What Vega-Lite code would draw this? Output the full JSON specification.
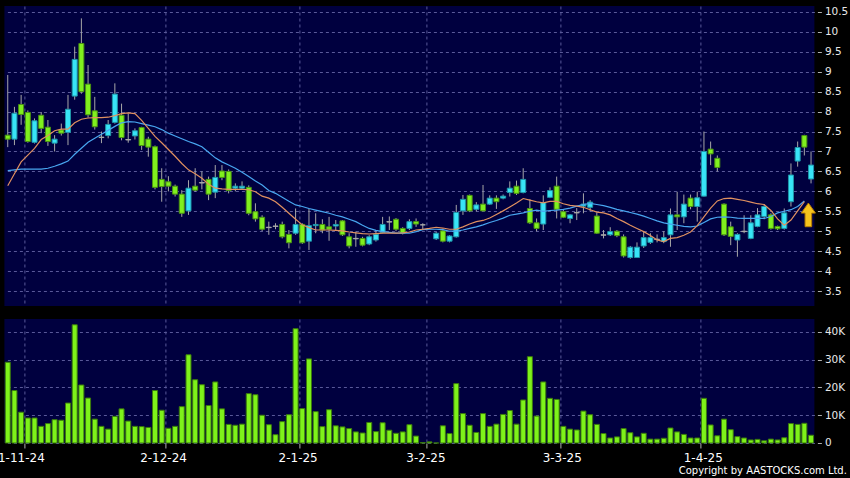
{
  "$schema": "https://vega.github.io/schema/vega-lite/v6.json",
  "background": "#000000",
  "padding": {"left": -2.6, "top": 6, "right": 3, "bottom": 3},
  "autosize": {"type": "pad"},
  "bounds": "flush",
  "spacing": 13,
  "config": {
    "view": {"fill": "#00003f", "stroke": null},
    "axis": {"domain": false, "labelFont": "DejaVu Sans", "labelColor": "#e8e8e8", "gridColor": "#5a5a9a", "gridDash": [3, 3], "gridWidth": 1, "tickColor": "#b0b0b0", "labelFlush": false, "labelOverlap": false}
  },
  "datasets": {
    "bars": [
      {"i":0,"o":7.41,"h":8.92,"l":7.11,"c":7.31,"v":29100,"mo":6.14,"mb":6.52},
      {"i":1,"o":7.31,"h":8.12,"l":7.16,"c":7.96,"v":18900,"mo":6.44,"mb":6.54},
      {"i":2,"o":8.18,"h":8.42,"l":7.67,"c":7.93,"v":11100,"mo":6.74,"mb":6.56},
      {"i":3,"o":7.98,"h":8.03,"l":7.22,"c":7.25,"v":9000,"mo":6.91,"mb":6.56},
      {"i":4,"o":7.23,"h":7.83,"l":7.2,"c":7.77,"v":9000,"mo":7.08,"mb":6.56},
      {"i":5,"o":7.91,"h":7.99,"l":7.46,"c":7.58,"v":6000,"mo":7.3,"mb":6.56},
      {"i":6,"o":7.61,"h":7.79,"l":7.14,"c":7.25,"v":7000,"mo":7.4,"mb":6.58},
      {"i":7,"o":7.21,"h":7.41,"l":7.0,"c":7.31,"v":8400,"mo":7.52,"mb":6.63},
      {"i":8,"o":7.54,"h":7.7,"l":7.4,"c":7.46,"v":8200,"mo":7.56,"mb":6.69},
      {"i":9,"o":7.48,"h":8.42,"l":7.16,"c":8.06,"v":14400,"mo":7.56,"mb":6.76},
      {"i":10,"o":8.39,"h":9.63,"l":8.3,"c":9.31,"v":42600,"mo":7.72,"mb":6.93},
      {"i":11,"o":9.71,"h":10.34,"l":8.45,"c":8.5,"v":20900,"mo":7.81,"mb":7.08},
      {"i":12,"o":8.69,"h":9.17,"l":7.85,"c":7.92,"v":16200,"mo":7.84,"mb":7.23},
      {"i":13,"o":8.02,"h":8.37,"l":7.55,"c":7.62,"v":8600,"mo":7.85,"mb":7.33},
      {"i":14,"o":7.36,"h":7.5,"l":7.21,"c":7.35,"v":6000,"mo":7.85,"mb":7.43},
      {"i":15,"o":7.4,"h":7.79,"l":7.33,"c":7.68,"v":5000,"mo":7.86,"mb":7.53},
      {"i":16,"o":7.73,"h":8.71,"l":7.7,"c":8.44,"v":9600,"mo":7.9,"mb":7.63},
      {"i":17,"o":7.91,"h":8.2,"l":7.28,"c":7.35,"v":12300,"mo":7.95,"mb":7.72},
      {"i":18,"o":7.29,"h":7.95,"l":7.22,"c":7.3,"v":7900,"mo":7.97,"mb":7.75},
      {"i":19,"o":7.39,"h":7.58,"l":7.3,"c":7.52,"v":6000,"mo":7.95,"mb":7.74},
      {"i":20,"o":7.6,"h":7.62,"l":7.04,"c":7.15,"v":5900,"mo":7.78,"mb":7.7},
      {"i":21,"o":7.31,"h":7.37,"l":6.87,"c":7.11,"v":5600,"mo":7.58,"mb":7.66},
      {"i":22,"o":7.12,"h":7.15,"l":6.05,"c":6.1,"v":18900,"mo":7.38,"mb":7.62},
      {"i":23,"o":6.3,"h":6.58,"l":5.74,"c":6.12,"v":11800,"mo":7.22,"mb":7.55},
      {"i":24,"o":6.24,"h":6.38,"l":6.0,"c":6.13,"v":5300,"mo":7.05,"mb":7.46},
      {"i":25,"o":6.13,"h":6.17,"l":5.87,"c":5.93,"v":6000,"mo":6.88,"mb":7.39},
      {"i":26,"o":5.93,"h":6.03,"l":5.36,"c":5.45,"v":13100,"mo":6.7,"mb":7.32},
      {"i":27,"o":5.51,"h":6.28,"l":5.41,"c":6.08,"v":31800,"mo":6.54,"mb":7.25},
      {"i":28,"o":6.13,"h":6.58,"l":5.99,"c":6.03,"v":22800,"mo":6.44,"mb":7.19},
      {"i":29,"o":6.22,"h":6.5,"l":6.05,"c":6.21,"v":21000,"mo":6.33,"mb":7.12},
      {"i":30,"o":6.3,"h":6.37,"l":5.78,"c":5.93,"v":13500,"mo":6.18,"mb":6.98},
      {"i":31,"o":5.98,"h":6.66,"l":5.83,"c":6.35,"v":22000,"mo":6.08,"mb":6.84},
      {"i":32,"o":6.51,"h":6.66,"l":6.28,"c":6.35,"v":12300,"mo":6.06,"mb":6.74},
      {"i":33,"o":6.5,"h":6.55,"l":5.95,"c":6.02,"v":6700,"mo":6.05,"mb":6.66},
      {"i":34,"o":6.08,"h":6.2,"l":6.0,"c":6.13,"v":6400,"mo":6.05,"mb":6.58},
      {"i":35,"o":6.08,"h":6.25,"l":6.05,"c":6.13,"v":6800,"mo":6.05,"mb":6.48},
      {"i":36,"o":6.1,"h":6.15,"l":5.4,"c":5.45,"v":17800,"mo":6.04,"mb":6.37},
      {"i":37,"o":5.49,"h":5.7,"l":5.24,"c":5.31,"v":17400,"mo":5.99,"mb":6.26},
      {"i":38,"o":5.35,"h":5.4,"l":5.0,"c":5.05,"v":10000,"mo":5.88,"mb":6.16},
      {"i":39,"o":5.1,"h":5.24,"l":4.91,"c":5.09,"v":6600,"mo":5.83,"mb":6.02},
      {"i":40,"o":5.12,"h":5.2,"l":5.05,"c":5.13,"v":3000,"mo":5.74,"mb":5.95},
      {"i":41,"o":5.17,"h":5.24,"l":4.82,"c":4.86,"v":7700,"mo":5.6,"mb":5.85},
      {"i":42,"o":4.92,"h":5.03,"l":4.57,"c":4.71,"v":10200,"mo":5.45,"mb":5.75},
      {"i":43,"o":4.95,"h":5.57,"l":4.91,"c":5.17,"v":41200,"mo":5.3,"mb":5.66},
      {"i":44,"o":5.17,"h":5.2,"l":4.68,"c":4.71,"v":12400,"mo":5.16,"mb":5.62},
      {"i":45,"o":4.75,"h":5.57,"l":4.53,"c":5.14,"v":30300,"mo":5.09,"mb":5.57},
      {"i":46,"o":5.14,"h":5.45,"l":4.95,"c":5.17,"v":11300,"mo":5.03,"mb":5.53},
      {"i":47,"o":5.17,"h":5.3,"l":4.95,"c":5.03,"v":5900,"mo":5.03,"mb":5.49},
      {"i":48,"o":5.11,"h":5.36,"l":4.76,"c":5.05,"v":12000,"mo":5.03,"mb":5.45},
      {"i":49,"o":5.13,"h":5.28,"l":5.03,"c":5.17,"v":6200,"mo":5.02,"mb":5.4},
      {"i":50,"o":5.26,"h":5.28,"l":4.88,"c":4.91,"v":5800,"mo":5.01,"mb":5.36},
      {"i":51,"o":4.86,"h":4.95,"l":4.57,"c":4.63,"v":5200,"mo":4.98,"mb":5.3},
      {"i":52,"o":4.82,"h":4.99,"l":4.61,"c":4.81,"v":4000,"mo":4.96,"mb":5.24},
      {"i":53,"o":4.82,"h":4.86,"l":4.62,"c":4.65,"v":3600,"mo":4.94,"mb":5.15},
      {"i":54,"o":4.68,"h":4.9,"l":4.65,"c":4.86,"v":7400,"mo":4.93,"mb":5.07},
      {"i":55,"o":4.78,"h":5.03,"l":4.74,"c":4.92,"v":4100,"mo":4.94,"mb":5.02},
      {"i":56,"o":4.97,"h":5.36,"l":4.95,"c":5.17,"v":7300,"mo":4.95,"mb":4.99},
      {"i":57,"o":5.24,"h":5.37,"l":5.03,"c":5.23,"v":4600,"mo":4.95,"mb":4.97},
      {"i":58,"o":5.3,"h":5.33,"l":5.0,"c":5.05,"v":3500,"mo":4.95,"mb":4.95},
      {"i":59,"o":5.07,"h":5.1,"l":4.92,"c":4.95,"v":4000,"mo":4.96,"mb":4.95},
      {"i":60,"o":5.07,"h":5.3,"l":5.03,"c":5.24,"v":6600,"mo":4.98,"mb":4.95},
      {"i":61,"o":5.24,"h":5.32,"l":5.11,"c":5.18,"v":2500,"mo":5.03,"mb":4.99},
      {"i":62,"o":5.16,"h":5.2,"l":5.05,"c":5.16,"v":100,"mo":5.05,"mb":5.04},
      {"i":63,"o":null,"h":null,"l":null,"c":null,"v":400,"mo":5.07,"mb":5.05},
      {"i":64,"o":4.81,"h":4.98,"l":4.78,"c":4.95,"v":0,"mo":5.1,"mb":5.05},
      {"i":65,"o":5.01,"h":5.05,"l":4.72,"c":4.75,"v":6200,"mo":5.08,"mb":5.04},
      {"i":66,"o":4.75,"h":4.9,"l":4.72,"c":4.88,"v":3400,"mo":5.05,"mb":5.0},
      {"i":67,"o":4.86,"h":5.66,"l":4.84,"c":5.47,"v":21400,"mo":5.05,"mb":5.0},
      {"i":68,"o":5.51,"h":5.91,"l":5.41,"c":5.8,"v":10600,"mo":5.11,"mb":5.03},
      {"i":69,"o":5.9,"h":5.92,"l":5.48,"c":5.51,"v":6400,"mo":5.18,"mb":5.07},
      {"i":70,"o":5.55,"h":5.73,"l":5.5,"c":5.66,"v":3800,"mo":5.24,"mb":5.11},
      {"i":71,"o":5.68,"h":6.16,"l":5.5,"c":5.51,"v":10600,"mo":5.27,"mb":5.16},
      {"i":72,"o":5.68,"h":5.9,"l":5.66,"c":5.83,"v":6000,"mo":5.33,"mb":5.22},
      {"i":73,"o":5.83,"h":5.9,"l":5.56,"c":5.74,"v":6800,"mo":5.42,"mb":5.27},
      {"i":74,"o":5.83,"h":5.92,"l":5.8,"c":5.88,"v":10300,"mo":5.51,"mb":5.33},
      {"i":75,"o":5.97,"h":6.25,"l":5.87,"c":6.08,"v":11700,"mo":5.61,"mb":5.4},
      {"i":76,"o":6.13,"h":6.27,"l":5.91,"c":5.95,"v":6800,"mo":5.71,"mb":5.43},
      {"i":77,"o":5.97,"h":6.58,"l":5.95,"c":6.3,"v":15500,"mo":5.82,"mb":5.46},
      {"i":78,"o":5.57,"h":5.8,"l":5.18,"c":5.21,"v":31100,"mo":5.78,"mb":5.5},
      {"i":79,"o":5.21,"h":5.32,"l":5.0,"c":5.07,"v":9700,"mo":5.74,"mb":5.53},
      {"i":80,"o":5.18,"h":5.9,"l":5.03,"c":5.72,"v":22000,"mo":5.71,"mb":5.5},
      {"i":81,"o":5.85,"h":6.1,"l":5.83,"c":6.02,"v":16100,"mo":5.75,"mb":5.52},
      {"i":82,"o":6.13,"h":6.37,"l":5.32,"c":5.55,"v":15700,"mo":5.75,"mb":5.53},
      {"i":83,"o":5.49,"h":5.55,"l":5.33,"c":5.35,"v":6000,"mo":5.69,"mb":5.55},
      {"i":84,"o":5.32,"h":5.43,"l":5.2,"c":5.41,"v":5000,"mo":5.65,"mb":5.58},
      {"i":85,"o":5.47,"h":5.58,"l":5.28,"c":5.46,"v":4700,"mo":5.63,"mb":5.63},
      {"i":86,"o":5.63,"h":5.95,"l":5.45,"c":5.68,"v":11500,"mo":5.6,"mb":5.67},
      {"i":87,"o":5.6,"h":5.78,"l":5.5,"c":5.73,"v":10200,"mo":5.54,"mb":5.7},
      {"i":88,"o":5.38,"h":5.47,"l":4.93,"c":4.95,"v":6700,"mo":5.48,"mb":5.67},
      {"i":89,"o":4.91,"h":5.03,"l":4.82,"c":4.9,"v":3400,"mo":5.46,"mb":5.64},
      {"i":90,"o":4.91,"h":5.1,"l":4.88,"c":4.99,"v":1800,"mo":5.41,"mb":5.6},
      {"i":91,"o":5.0,"h":5.03,"l":4.85,"c":4.89,"v":2200,"mo":5.32,"mb":5.55},
      {"i":92,"o":4.86,"h":4.92,"l":4.34,"c":4.38,"v":5200,"mo":5.24,"mb":5.51},
      {"i":93,"o":4.34,"h":4.63,"l":4.31,"c":4.6,"v":3700,"mo":5.15,"mb":5.47},
      {"i":94,"o":4.34,"h":4.72,"l":4.33,"c":4.6,"v":2200,"mo":5.07,"mb":5.43},
      {"i":95,"o":4.63,"h":5.0,"l":4.58,"c":4.84,"v":3500,"mo":4.99,"mb":5.38},
      {"i":96,"o":4.72,"h":4.95,"l":4.68,"c":4.84,"v":1400,"mo":4.89,"mb":5.32},
      {"i":97,"o":4.79,"h":4.92,"l":4.72,"c":4.8,"v":1400,"mo":4.78,"mb":5.26},
      {"i":98,"o":4.74,"h":5.0,"l":4.7,"c":4.84,"v":1700,"mo":4.74,"mb":5.21},
      {"i":99,"o":4.91,"h":5.57,"l":4.61,"c":5.41,"v":5400,"mo":4.82,"mb":5.18},
      {"i":100,"o":5.41,"h":5.99,"l":5.03,"c":5.36,"v":4000,"mo":4.84,"mb":5.15},
      {"i":101,"o":5.36,"h":5.92,"l":5.2,"c":5.68,"v":3100,"mo":4.9,"mb":5.12},
      {"i":102,"o":5.83,"h":5.92,"l":5.55,"c":5.62,"v":1800,"mo":4.98,"mb":5.11},
      {"i":103,"o":5.62,"h":5.99,"l":5.24,"c":5.84,"v":1800,"mo":5.14,"mb":5.13},
      {"i":104,"o":5.88,"h":7.5,"l":5.87,"c":7.0,"v":16100,"mo":5.36,"mb":5.22},
      {"i":105,"o":7.06,"h":7.25,"l":6.66,"c":6.94,"v":6500,"mo":5.58,"mb":5.31},
      {"i":106,"o":6.83,"h":6.9,"l":6.5,"c":6.6,"v":2600,"mo":5.76,"mb":5.35},
      {"i":107,"o":5.68,"h":5.7,"l":4.88,"c":4.91,"v":8600,"mo":5.82,"mb":5.36},
      {"i":108,"o":5.11,"h":5.24,"l":4.65,"c":4.87,"v":4800,"mo":5.83,"mb":5.35},
      {"i":109,"o":4.78,"h":4.95,"l":4.36,"c":4.92,"v":2300,"mo":5.8,"mb":5.33},
      {"i":110,"o":5.0,"h":5.4,"l":4.95,"c":4.99,"v":1800,"mo":5.77,"mb":5.32},
      {"i":111,"o":4.82,"h":5.4,"l":4.8,"c":5.21,"v":1100,"mo":5.73,"mb":5.32},
      {"i":112,"o":5.12,"h":5.58,"l":5.1,"c":5.41,"v":1300,"mo":5.69,"mb":5.32},
      {"i":113,"o":5.37,"h":5.68,"l":5.3,"c":5.62,"v":800,"mo":5.67,"mb":5.32},
      {"i":114,"o":5.41,"h":5.45,"l":5.04,"c":5.07,"v":1400,"mo":5.52,"mb":5.37},
      {"i":115,"o":5.12,"h":5.14,"l":5.03,"c":5.06,"v":1100,"mo":5.31,"mb":5.46},
      {"i":116,"o":5.07,"h":5.57,"l":5.04,"c":5.46,"v":1900,"mo":5.15,"mb":5.5},
      {"i":117,"o":5.74,"h":6.7,"l":5.62,"c":6.41,"v":7000,"mo":5.28,"mb":5.54},
      {"i":118,"o":6.76,"h":7.25,"l":6.62,"c":7.1,"v":6700,"mo":5.51,"mb":5.62},
      {"i":119,"o":7.4,"h":7.42,"l":6.9,"c":7.11,"v":7100,"mo":5.74,"mb":5.76},
      {"i":120,"o":6.31,"h":7.0,"l":6.2,"c":6.66,"v":2800,"mo":null,"mb":null}
    ],
    "sig": [{"i": 119.6, "p": 5.41}]
  },
  "vconcat": [
    {
      "width": 810,
      "height": 300,
      "data": {"name": "bars"},
      "encoding": {
        "x": {"field": "i", "type": "quantitative", "scale": {"domain": [-0.5, 120.5], "nice": false, "zero": false, "padding": 0},
              "axis": {"values": [2.5, 23.5, 43.5, 62.5, 82.5, 103.5], "tickCount": 20, "labels": false, "ticks": false, "grid": true, "title": null}}
      },
      "layer": [
        {
          "mark": {"type": "rule", "color": "#a8a8a8", "strokeWidth": 1},
          "encoding": {
            "y": {"field": "l", "type": "quantitative", "scale": {"domain": [3.124, 10.65], "nice": false, "zero": false},
                  "axis": {"orient": "right", "title": null, "values": [3.5, 4, 4.5, 5, 5.5, 6, 6.5, 7, 7.5, 8, 8.5, 9, 9.5, 10, 10.5], "tickCount": 20, "labelExpr": "'' + datum.value", "labelOverlap": false, "labelBound": false, "offset": 3, "tickSize": 4, "labelPadding": 3, "labelFontSize": 10.5, "grid": true}},
            "y2": {"field": "h"}
          }
        },
        {
          "mark": {"type": "bar", "size": 5, "strokeWidth": 1},
          "encoding": {
            "y": {"field": "o", "type": "quantitative"},
            "y2": {"field": "c"},
            "fill": {"condition": [{"test": "abs(datum.c - datum.o) < 0.015", "value": "#a8a8a8"}, {"test": "datum.c > datum.o", "value": "#38e4f7"}], "value": "#80f01e"},
            "stroke": {"condition": [{"test": "abs(datum.c - datum.o) < 0.015", "value": "#a8a8a8"}, {"test": "datum.c > datum.o", "value": "#1f96a8"}], "value": "#4a9412"}
          }
        },
        {
          "mark": {"type": "line", "color": "#48a6f0", "strokeWidth": 1.2},
          "encoding": {"y": {"field": "mb", "type": "quantitative"}}
        },
        {
          "mark": {"type": "line", "color": "#e09060", "strokeWidth": 1.2},
          "encoding": {"y": {"field": "mo", "type": "quantitative"}}
        },
        {
          "data": {"name": "sig"},
          "mark": {"type": "point", "shape": "M0,-1L0.6,-0.15L0.28,-0.15L0.28,1L-0.28,1L-0.28,-0.15L-0.6,-0.15Z", "size": 560, "filled": true, "fill": "#f6c31c", "stroke": "#b87d00", "strokeWidth": 1, "opacity": 1},
          "encoding": {
            "x": {"field": "i", "type": "quantitative"},
            "y": {"field": "p", "type": "quantitative"}
          }
        }
      ]
    },
    {
      "width": 810,
      "height": 124,
      "data": {"name": "bars"},
      "mark": {"type": "bar", "size": 5, "fill": "#7ef21a", "stroke": "#3a7a0c", "strokeWidth": 1},
      "encoding": {
        "x": {"field": "i", "type": "quantitative", "scale": {"domain": [-0.5, 120.5], "nice": false, "zero": false, "padding": 0},
              "axis": {"values": [2.5, 23.5, 43.5, 62.5, 82.5, 103.5], "tickCount": 20, "grid": true, "ticks": true, "tickSize": 5, "labelPadding": 5, "labelFontSize": 12, "labelColor": "#ffffff", "labelOverlap": false,
                       "labelExpr": "datum.value == 2.5 ? '1-11-24' : datum.value == 23.5 ? '2-12-24' : datum.value == 43.5 ? '2-1-25' : datum.value == 62.5 ? '3-2-25' : datum.value == 82.5 ? '3-3-25' : '1-4-25'",
                       "labelOffset": {"condition": [{"test": "datum.value < 3", "value": -3.6}, {"test": "datum.value < 24", "value": -2}, {"test": "datum.value < 44", "value": -1.3}, {"test": "datum.value < 63", "value": -0.7}, {"test": "datum.value < 83", "value": 1.7}], "value": 2.2},
                       "title": "Copyright by AASTOCKS.com Ltd.", "titleFont": "DejaVu Sans", "titleFontSize": 10, "titleFontWeight": "normal", "titleColor": "#ffffff", "titleAnchor": "end", "titleAlign": "right", "titleBaseline": "alphabetic", "titleX": 842, "titleY": 30.2}},
        "y": {"field": "v", "type": "quantitative", "scale": {"domain": [0, 44680], "nice": false, "zero": true},
              "axis": {"orient": "right", "title": null, "values": [0, 10000, 20000, 30000, 40000], "tickCount": 20, "labelExpr": "datum.value == 0 ? '0' : (datum.value / 1000) + 'K'", "labelOverlap": false, "offset": 3, "tickSize": 4, "labelPadding": 3, "labelFontSize": 10.5, "grid": true}}
      }
    }
  ]
}
